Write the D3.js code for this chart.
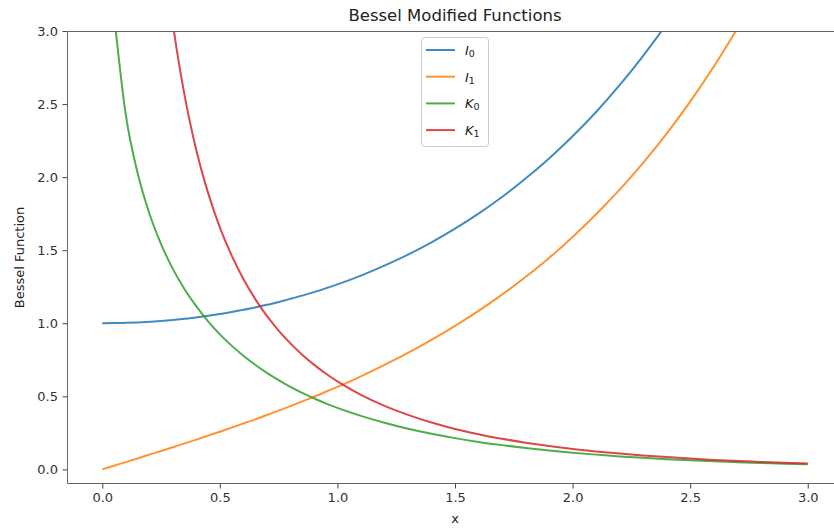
<!DOCTYPE html>
<html>
<head>
<meta charset="utf-8">
<script src="https://cdn.jsdelivr.net/npm/d3@7"></script>
<style>
  body { margin: 0; background: #fff; }
  text { font-family: "DejaVu Sans", sans-serif; }
</style>
</head>
<body>
<div id="chart"></div>
<script>
const MARGIN = { top: 31, right: -9, bottom: 45, left: 67 };
const WIDTH = 834 - MARGIN.left - MARGIN.right;
const HEIGHT = 529 - MARGIN.top - MARGIN.bottom;

// DATA
const xValues = [0, 0.05, 0.1, 0.15, 0.2, 0.25, 0.3, 0.35, 0.4, 0.45, 0.5, 0.55, 0.6, 0.65, 0.7, 0.75, 0.8, 0.85, 0.9, 0.95,
  1.0, 1.1, 1.2, 1.3, 1.4, 1.5, 1.6, 1.7, 1.8, 1.9, 2.0, 2.1, 2.2, 2.3, 2.4, 2.5, 2.6, 2.7, 2.8, 2.9, 3.0];
const i0 = [1.000, 1.001, 1.003, 1.006, 1.010, 1.016, 1.023, 1.031, 1.040, 1.051, 1.063, 1.077, 1.092, 1.108, 1.126, 1.146, 1.167, 1.189, 1.213, 1.239,
  1.266, 1.326, 1.394, 1.469, 1.553, 1.647, 1.750, 1.864, 1.990, 2.128, 2.280, 2.446, 2.629, 2.830, 3.049, 3.290, 3.553, 3.842, 4.157, 4.503, 4.881];
const i1 = [0.000, 0.025, 0.050, 0.075, 0.101, 0.126, 0.152, 0.178, 0.204, 0.231, 0.258, 0.286, 0.314, 0.342, 0.372, 0.402, 0.433, 0.465, 0.497, 0.531,
  0.565, 0.637, 0.715, 0.797, 0.886, 0.982, 1.085, 1.196, 1.317, 1.447, 1.591, 1.746, 1.914, 2.098, 2.298, 2.517, 2.755, 3.016, 3.301, 3.613, 3.953];
const k0 = [null, 3.114, 2.427, 2.030, 1.753, 1.542, 1.372, 1.233, 1.115, 1.013, 0.924, 0.847, 0.778, 0.716, 0.661, 0.611, 0.565, 0.524, 0.487, 0.452,
  0.421, 0.366, 0.319, 0.278, 0.244, 0.214, 0.188, 0.166, 0.146, 0.129, 0.114, 0.101, 0.089, 0.079, 0.070, 0.062, 0.055, 0.049, 0.044, 0.039, 0.035];
const k1 = [null, 19.910, 9.854, 6.478, 4.776, 3.747, 3.056, 2.559, 2.184, 1.892, 1.656, 1.464, 1.303, 1.167, 1.050, 0.950, 0.862, 0.785, 0.717, 0.656,
  0.602, 0.510, 0.435, 0.373, 0.321, 0.277, 0.241, 0.209, 0.183, 0.160, 0.140, 0.123, 0.108, 0.095, 0.084, 0.074, 0.065, 0.058, 0.051, 0.045, 0.040];

const seriesList = [
  { name: "I", sub: "0", values: i0, color: "#1f77b4" },
  { name: "I", sub: "1", values: i1, color: "#ff7f0e" },
  { name: "K", sub: "0", values: k0, color: "#2ca02c" },
  { name: "K", sub: "1", values: k1, color: "#d62728" }
];
const xTicks = [0, 0.5, 1, 1.5, 2, 2.5, 3];
const yTicks = [0, 0.5, 1, 1.5, 2, 2.5, 3];

// CREATE SVG
const root = d3.select("#chart").append("svg")
  .attr("width", 834)
  .attr("height", 529);

const svg = root.append("g")
  .attr("transform", `translate(${MARGIN.left}, ${MARGIN.top})`);

// SCALES
const xScale = d3.scaleLinear().domain([-0.15, 3.15]).range([0, WIDTH]);
const yScale = d3.scaleLinear().domain([-0.1, 3.0]).range([HEIGHT, 0]);

svg.append("clipPath").attr("id", "clip")
  .append("rect").attr("width", WIDTH).attr("height", HEIGHT);

// LINES
const line = d3.line()
  .defined(d => d.y !== null)
  .x(d => xScale(d.x))
  .y(d => yScale(d.y))
  .curve(d3.curveMonotoneX);

seriesList.forEach(s => {
  const pts = xValues.map((x, i) => ({ x: x, y: s.values[i] }));
  svg.append("path")
    .datum(pts)
    .attr("clip-path", "url(#clip)")
    .attr("fill", "none")
    .attr("stroke", s.color)
    .attr("stroke-opacity", 0.85)
    .attr("stroke-width", 2)
    .attr("d", line);
});

// AXES
const xAxis = svg.append("g")
  .attr("transform", `translate(0, ${HEIGHT})`)
  .call(d3.axisBottom(xScale).tickValues(xTicks).tickFormat(d3.format(".1f")).tickSize(4.5).tickPadding(4.5));
const yAxis = svg.append("g")
  .call(d3.axisLeft(yScale).tickValues(yTicks).tickFormat(d3.format(".1f")).tickSize(4.5).tickPadding(4.5));

[xAxis, yAxis].forEach(a => {
  a.select(".domain").remove();
  a.selectAll(".tick line").attr("stroke", "#444");
  a.selectAll(".tick text").attr("fill", "#333").style("font-size", "13px").style("font-family", "DejaVu Sans");
});

// SPINES (left, bottom, top)
svg.append("path")
  .attr("d", `M${WIDTH},0.5H0.5V${HEIGHT - 0.5}H${WIDTH}`)
  .attr("fill", "none")
  .attr("stroke", "#666");

// TITLES
root.append("text")
  .attr("x", MARGIN.left + WIDTH / 2).attr("y", 21)
  .attr("text-anchor", "middle")
  .style("font-size", "16.5px").attr("fill", "#222")
  .text("Bessel Modified Functions");

root.append("text")
  .attr("x", MARGIN.left + WIDTH / 2).attr("y", 523)
  .attr("text-anchor", "middle")
  .style("font-size", "13px").attr("fill", "#222")
  .text("x");

root.append("text")
  .attr("transform", `translate(24, ${MARGIN.top + HEIGHT / 2}) rotate(-90)`)
  .attr("text-anchor", "middle")
  .style("font-size", "13px").attr("fill", "#222")
  .text("Bessel Function");

// LEGEND
const legend = root.append("g").attr("transform", "translate(421, 37)");
legend.append("rect")
  .attr("x", 0.5).attr("y", 0.5)
  .attr("width", 67).attr("height", 109)
  .attr("rx", 3)
  .attr("fill", "#fff").attr("fill-opacity", 0.8)
  .attr("stroke", "#ccc");

seriesList.forEach((s, i) => {
  const y = 13 + i * 26.7;
  legend.append("line")
    .attr("x1", 5).attr("x2", 34).attr("y1", y).attr("y2", y)
    .attr("stroke", s.color).attr("stroke-opacity", 0.85).attr("stroke-width", 2);
  const t = legend.append("text")
    .attr("x", 44).attr("y", y + 5)
    .style("font-size", "13px").attr("fill", "#222");
  t.append("tspan").style("font-style", "italic").text(s.name);
  t.append("tspan").attr("dy", 2).style("font-size", "9.5px").text(s.sub);
});
</script>
</body>
</html>
